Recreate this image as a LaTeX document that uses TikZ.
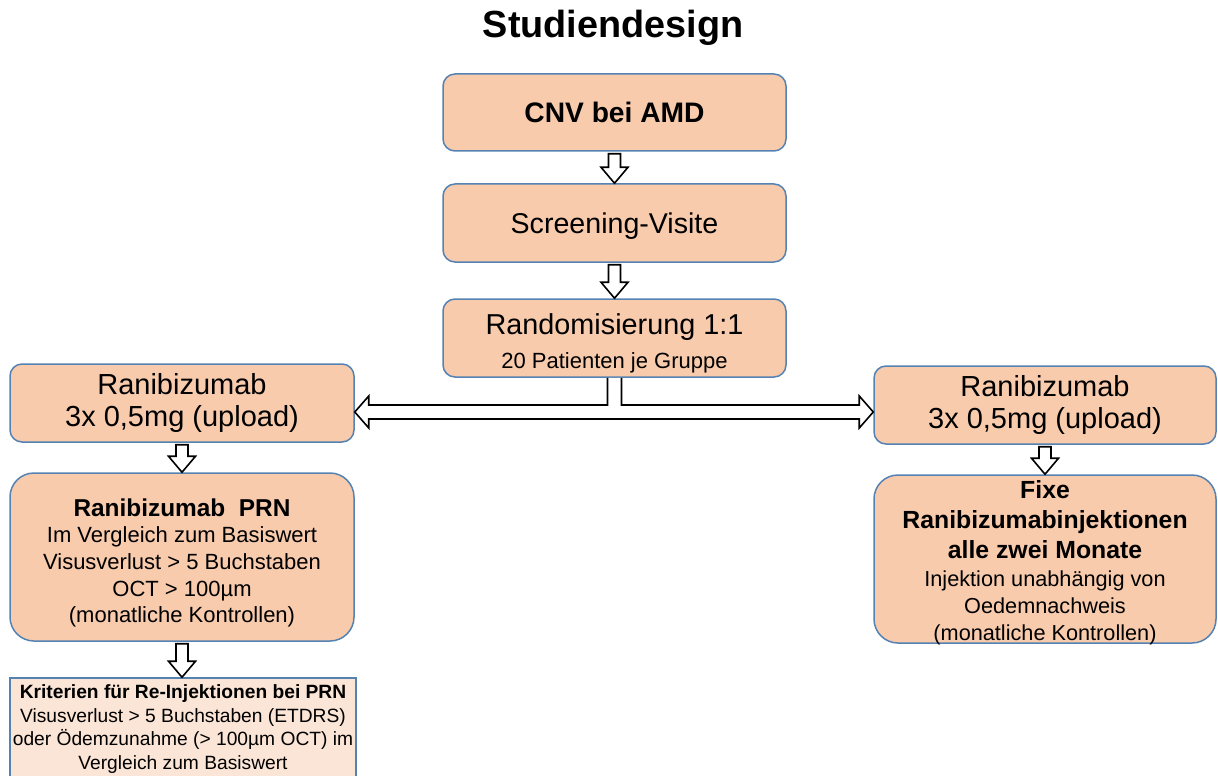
\documentclass[tikz,border=0pt]{standalone}
\usepackage{fontspec}
\setmainfont{Liberation Sans}
\usetikzlibrary{calc}
\definecolor{peach}{HTML}{F8CBAD}
\definecolor{lightpeach}{HTML}{FBE5D6}
\definecolor{boxblue}{RGB}{84,130,178}
\tikzset{
  box/.style={draw=boxblue, fill=peach, line width=0.75pt, rounded corners=6pt,
    align=center, inner sep=2pt},
  bigbox/.style={box, rounded corners=12pt},
  critbox/.style={draw=boxblue, fill=lightpeach, line width=0.75pt, align=center, inner sep=0.5pt},
  boxtext/.style={align=center, inner sep=0pt},
  blockarrow/.style={draw=black, fill=white, line width=0.8pt, line join=miter},
}
\newcommand\blockdown[2]{%
  \draw[blockarrow] let \p1=(#1.south), \p2=(#2.north) in
    (\x1-3pt,\y1-1pt) -- (\x1+3pt,\y1-1pt) -- (\x1+3pt,\y2+8pt) -- (\x1+6.75pt,\y2+8pt)
    -- (\x1,\y2) -- (\x1-6.75pt,\y2+8pt) -- (\x1-3pt,\y2+8pt) -- cycle;}
\begin{document}
\begin{tikzpicture}[x=0.5pt,y=-0.5pt]
\useasboundingbox (0,0) rectangle (1218,775);
\node[font=\fontsize{18.9}{22}\selectfont\bfseries] (title) at (613,28) {Studiendesign};

\node[box, minimum width=171.5pt, minimum height=38.5pt,
  font=\fontsize{14.1}{17}\selectfont\bfseries] (cnv) at (614.5,112.5) {CNV bei AMD};
\node[box, minimum width=171.5pt, minimum height=39pt, text depth=0pt,
  font=\fontsize{14.3}{17}\selectfont] (scr) at (614.5,223) {Screening-Visite};
\node[box, minimum width=171.5pt, minimum height=39pt] (rand) at (614.5,338) {};
\node[boxtext, font=\fontsize{14.4}{17}\selectfont] (randtext) at (614.5,343)
  {Randomisierung 1:1\\{\fontsize{11}{13}\selectfont 20 Patienten je Gruppe}};

\node[box, minimum width=172pt, minimum height=39pt,
  font=\fontsize{14.5}{16}\selectfont] (lr) at (182,403) {Ranibizumab\\3x 0,5mg (upload)};
\node[box, minimum width=171pt, minimum height=39pt,
  font=\fontsize{14.5}{16}\selectfont] (rr) at (1045,405) {Ranibizumab\\3x 0,5mg (upload)};

\node[bigbox, minimum width=172pt, minimum height=84pt] (prn) at (182,557) {};
\node[boxtext, font=\fontsize{11}{13.3}\selectfont] (prntext) at (182,563)
  {{\fontsize{12.2}{14}\selectfont\bfseries Ranibizumab\ \ PRN}\\
   Im Vergleich zum Basiswert\\
   Visusverlust > 5 Buchstaben\\
   OCT > 100µm\\
   (monatliche Kontrollen)};
\node[bigbox, minimum width=171pt, minimum height=84pt] (fix) at (1045,559) {};
\node[boxtext, font=\fontsize{10.85}{13.5}\selectfont] (fixtext) at (1045,563)
  {{\fontsize{12.4}{15}\selectfont\bfseries Fixe}\\[1.5pt]
   {\fontsize{12.4}{15}\selectfont\bfseries Ranibizumabinjektionen}\\[1.5pt]
   {\fontsize{12.4}{15}\selectfont\bfseries alle zwei Monate}\\[0.5pt]
   Injektion unabhängig von\\
   Oedemnachweis\\
   (monatliche Kontrollen)};

\node[critbox, minimum width=173pt, minimum height=51pt,
  font=\fontsize{9.6}{11.75}\selectfont] (crit) at (183,729)
  {\textbf{Kriterien für Re-Injektionen bei PRN}\\
   Visusverlust > 5 Buchstaben (ETDRS)\\
   oder Ödemzunahme (> 100µm OCT) im\\
   Vergleich zum Basiswert};

\blockdown{cnv}{scr}
\blockdown{scr}{rand}
\blockdown{lr}{prn}
\blockdown{rr}{fix}
\blockdown{prn}{crit}

\coordinate (split) at (614.5,412);
\filldraw[blockarrow] let \p1=(rand.south), \p2=(lr.east), \p3=(rr.west), \p4=(split) in
  (\x1-3.5pt,\y1) -- (\x1-3.5pt,\y4+3.5pt) -- (\x2+7pt,\y4+3.5pt) -- (\x2+7pt,\y4+8pt)
  -- (\x2,\y4) -- (\x2+7pt,\y4-8pt) -- (\x2+7pt,\y4-3.5pt) -- (\x3-7pt,\y4-3.5pt)
  -- (\x3-7pt,\y4-8pt) -- (\x3,\y4) -- (\x3-7pt,\y4+8pt) -- (\x3-7pt,\y4+3.5pt)
  -- (\x1+3.5pt,\y4+3.5pt) -- (\x1+3.5pt,\y1);
\end{tikzpicture}
\end{document}
